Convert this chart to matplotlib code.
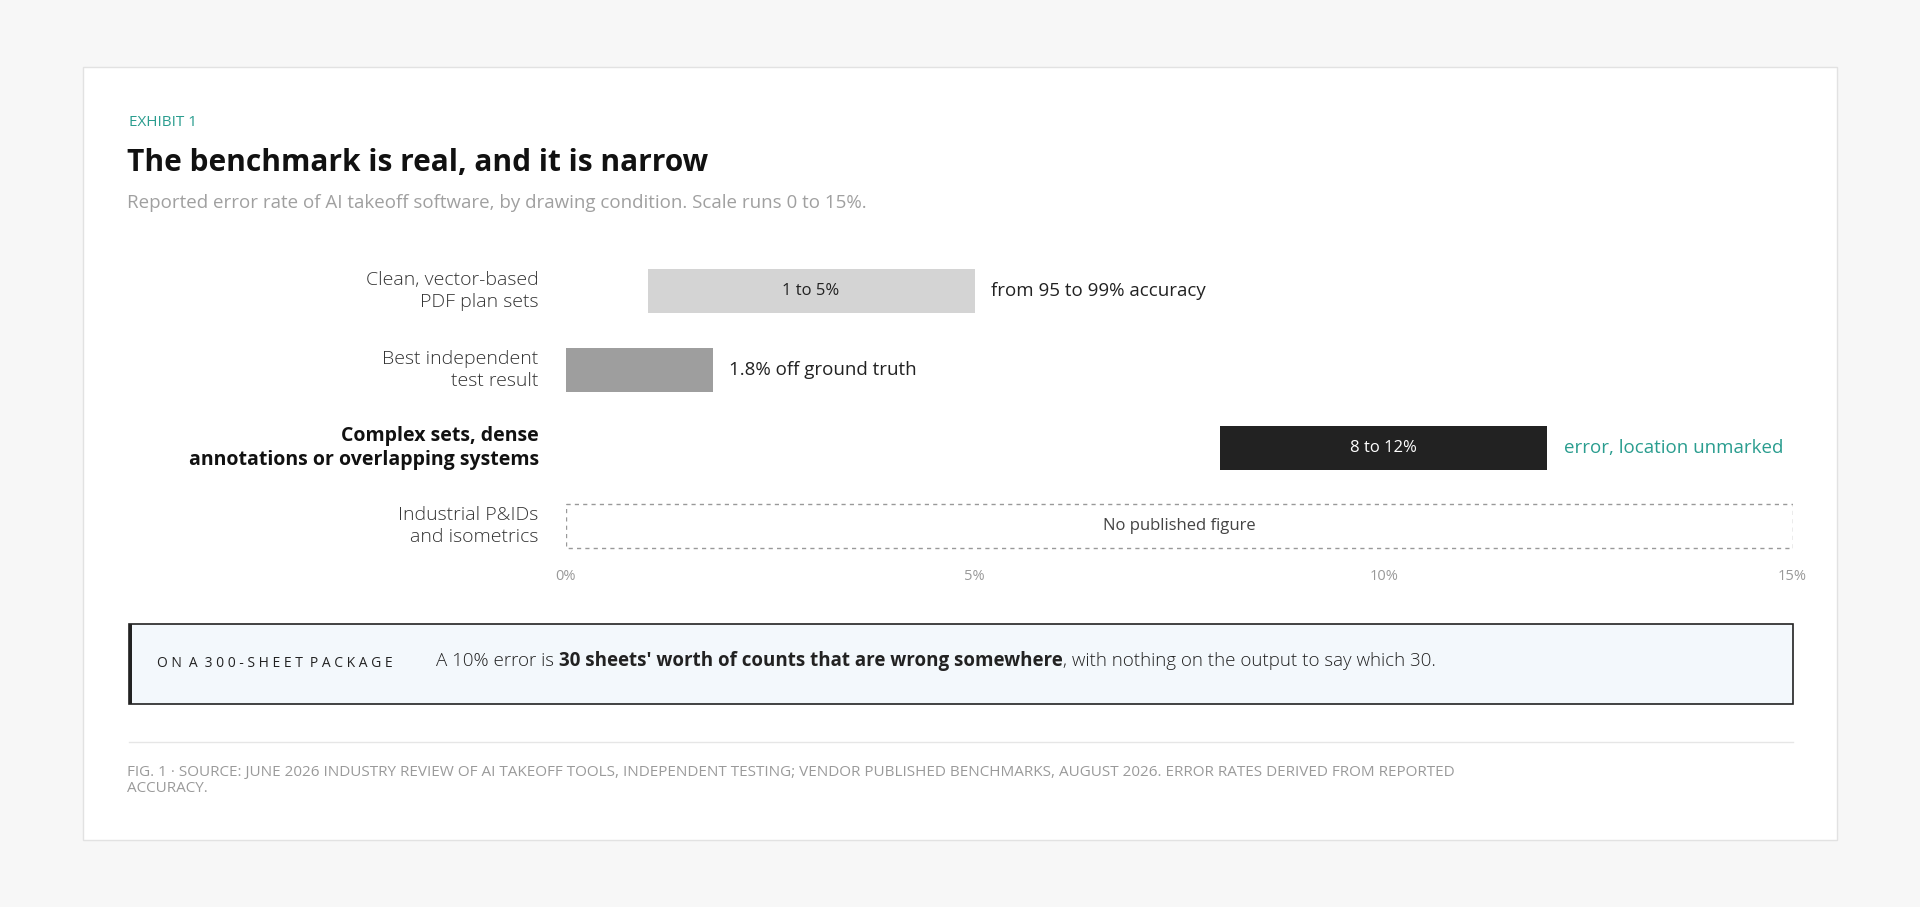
import matplotlib
matplotlib.use("Agg")
import matplotlib.pyplot as plt
from matplotlib.patches import Rectangle

categories = ["Clean, vector-based\nPDF plan sets", "Best independent\ntest result",
              "Complex sets, dense\nannotations or overlapping systems", "Industrial P&IDs\nand isometrics"]
starts = [1.0, 0.0, 8.0, None]
ends = [5.0, 1.8, 12.0, None]
inner_labels = ["1 to 5%", "", "8 to 12%", "No published figure"]
outer_labels = ["from 95 to 99% accuracy", "1.8% off ground truth", "error, location unmarked", ""]
ticks = [0, 5, 10, 15]
tick_labels = ["0%", "5%", "10%", "15%"]

W, H = 1568, 741
def fx(x): return x / W
def fy(y): return 1 - y / H

TEAL = "#2a9d8f"
FONT = "Open Sans"
fig = plt.figure(figsize=(19.2, 9.07), dpi=100, facecolor="#f7f7f7")
fig.patches.append(Rectangle((fx(68), fy(686)), fx(1500) - fx(68), fy(55) - fy(686),
                             transform=fig.transFigure, facecolor="white", edgecolor="#e2e2e2", lw=1, zorder=-10))

fig.text(fx(105), fy(100), "EXHIBIT 1", color=TEAL, fontsize=11, family=FONT, va="center")
fig.text(fx(104), fy(133), "The benchmark is real, and it is narrow", fontsize=21.5, weight="bold",
         family=FONT, va="center", color="#111")
fig.text(fx(104), fy(166), "Reported error rate of AI takeoff software, by drawing condition. Scale runs 0 to 15%.",
         fontsize=13.5, color="#a0a0a0", family=FONT, va="center")

ax = fig.add_axes([fx(462), fy(462), fx(1464) - fx(462), fy(206) - fy(462)])
ax.set_xlim(0, 15)
ax.set_ylim(3.5, -0.5)
ax.axis("off")
colors = ["#d4d4d4", "#9e9e9e", "#222222"]
txtcol = ["#222", "#222", "white"]
for i, cat in enumerate(categories):
    bold = i == 2
    ax.text(-0.33, i, cat, ha="right", va="center", fontsize=14, family=FONT,
            weight="bold" if bold else "light", color="#111" if bold else "#333", linespacing=1.3)
    if starts[i] is not None:
        ax.barh(i, ends[i] - starts[i], left=starts[i], height=0.56, color=colors[i])
        if inner_labels[i]:
            ax.text((starts[i] + ends[i]) / 2, i, inner_labels[i], ha="center", va="center",
                    fontsize=12, color=txtcol[i], family=FONT)
        ax.text(ends[i] + 0.2, i, outer_labels[i], ha="left", va="center", fontsize=13.5,
                family=FONT, weight="medium", color=TEAL if i == 2 else "#222")
    else:
        ax.add_patch(Rectangle((0, i - 0.28), 15, 0.56, fill=False, ls=(0, (3, 3)), ec="#999", lw=1))
        ax.text(7.5, i, inner_labels[i], ha="center", va="center", fontsize=12, color="#444", family=FONT)
for t, l in zip(ticks, tick_labels):
    fig.text(fx(462 + t / 15 * 1002), fy(471), l, ha="center", va="center", fontsize=10.5, color="#999", family=FONT)

# callout
fig.patches.append(Rectangle((fx(105), fy(575)), fx(1464) - fx(105), fy(510) - fy(575),
                             transform=fig.transFigure, facecolor="#f3f8fc", edgecolor="#222", lw=1.2, zorder=-5))
fig.patches.append(Rectangle((fx(105), fy(575)), fx(3), fy(510) - fy(575),
                             transform=fig.transFigure, facecolor="#222", edgecolor="none", zorder=-4))
fig.text(fx(128), fy(542), "O N\u2002A\u20023 0 0 - S H E E T\u2002P A C K A G E",
         fontsize=10, color="#222", family=FONT, va="center")
fig.canvas.draw()
r = fig.canvas.get_renderer()
x = fx(356)
for s, w in [("A 10% error is ", "light"), ("30 sheets' worth of counts that are wrong somewhere", "bold"),
             (", with nothing on the output to say which 30.", "light")]:
    t = fig.text(x, fy(540), s, fontsize=13.5, weight=w, family=FONT, va="center", color="#222")
    bb = t.get_window_extent(r)
    x += bb.width / fig.bbox.width

fig.add_artist(plt.Line2D([fx(105), fx(1464)], [fy(606), fy(606)], color="#e6e6e6", lw=1))
fig.text(fx(104), fy(638), "FIG. 1 · SOURCE: JUNE 2026 INDUSTRY REVIEW OF AI TAKEOFF TOOLS, INDEPENDENT TESTING; VENDOR PUBLISHED BENCHMARKS, AUGUST 2026. ERROR RATES DERIVED FROM REPORTED\nACCURACY.",
         fontsize=11, color="#9a9a9a", family=FONT, va="center", linespacing=1.1)

fig.savefig("out.png", dpi=100, facecolor=fig.get_facecolor())
